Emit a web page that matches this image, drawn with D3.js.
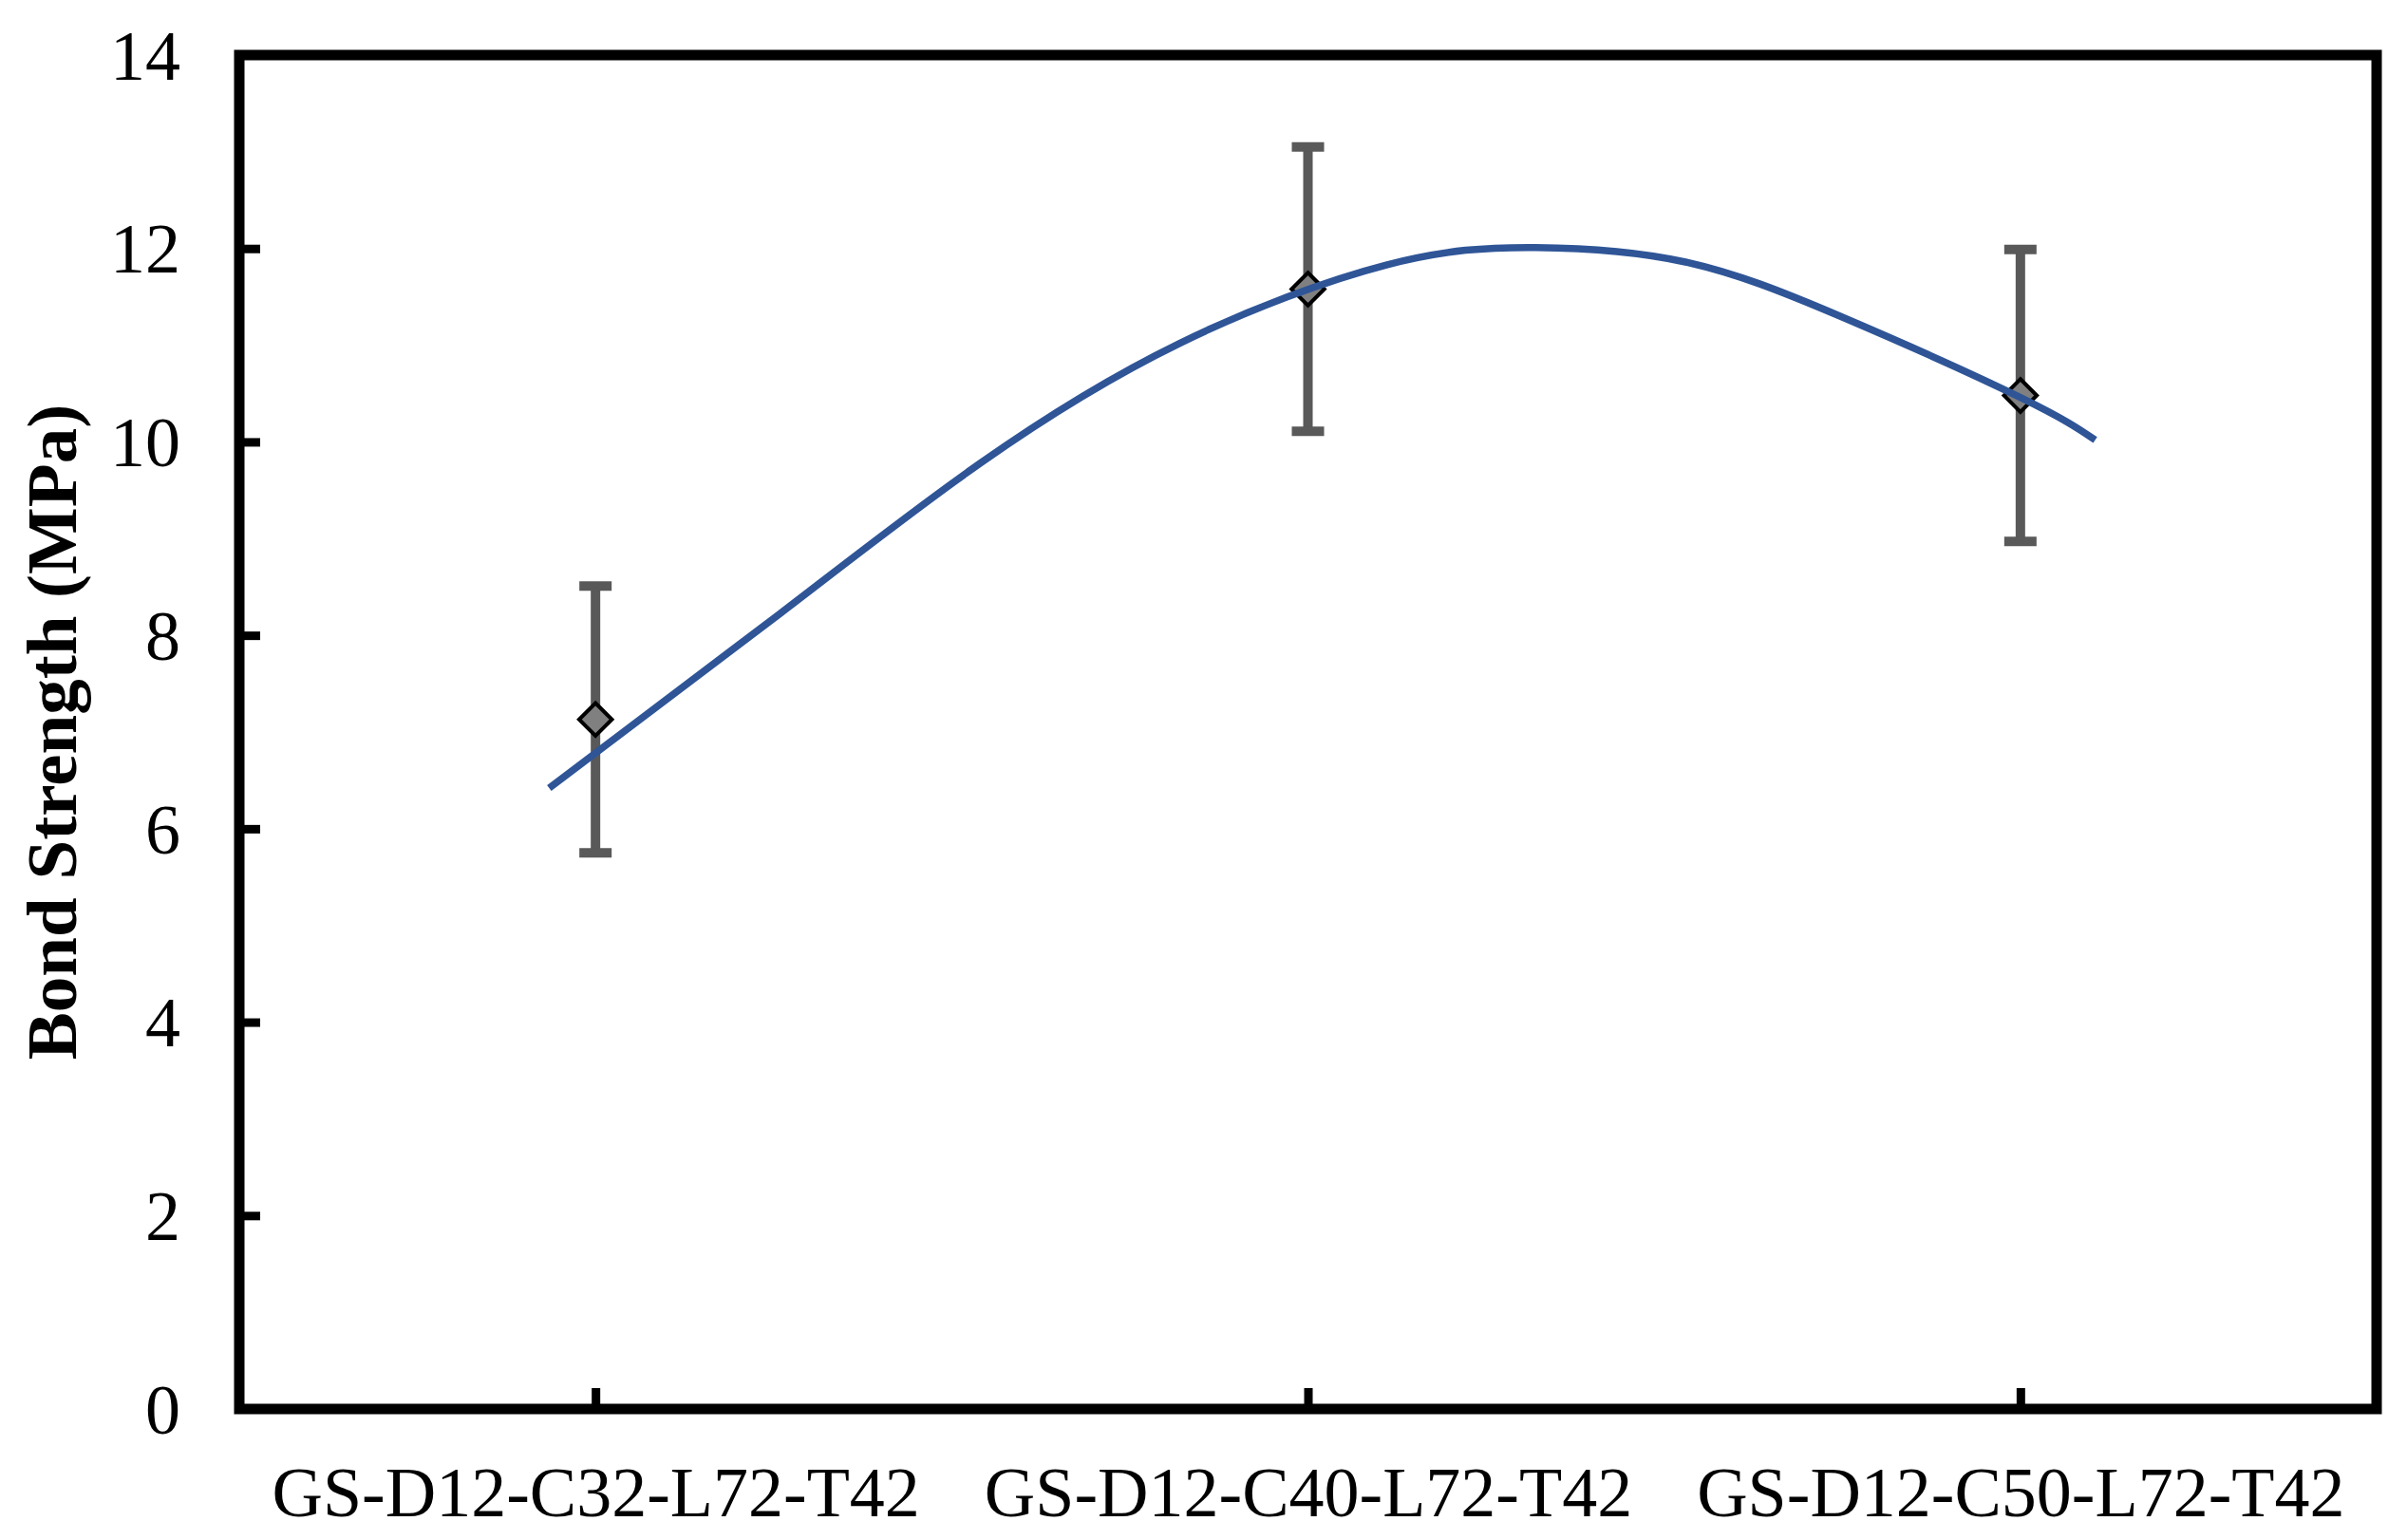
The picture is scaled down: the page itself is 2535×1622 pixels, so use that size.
<!DOCTYPE html>
<html>
<head>
<meta charset="utf-8">
<script src="https://cdn.jsdelivr.net/npm/d3@7"></script>
<style>
  body { margin: 0; background: #fff; }
  svg { display: block; }
</style>
</head>
<body>
<div class="chart"></div>
<script>
var categories = ["GS-D12-C32-L72-T42", "GS-D12-C40-L72-T42", "GS-D12-C50-L72-T42"];
var strength = [7.13, 11.58, 10.48];
var errHalf = [1.38, 1.47, 1.51];
var yTicks = [0, 2, 4, 6, 8, 10, 12, 14];

// trend curve (x in category index)
var fitX = [-0.065, 0.26, 0.54, 0.82, 1.11, 1.32, 1.53, 1.75, 2.0, 2.105];
var fitY = [6.42, 8.23, 9.78, 11.02, 11.83, 12.01, 11.86, 11.29, 10.46, 10.02];

var width = 2535;
var height = 1622;
var plotL = 252, plotR = 2503, plotT = 58, plotB = 1484;
var font = "'Liberation Serif', 'Times New Roman', serif";

var xScale = d3.scaleLinear().domain([-0.5, 2.5]).range([plotL, plotR]);
var yScale = d3.scaleLinear().domain([0, 14]).range([plotB, plotT]);

var svg = d3
  .select(".chart")
  .append("svg")
  .attr("width", width)
  .attr("height", height)
  .style("background", "#fff");

// y axis
var yAxis = svg
  .append("g")
  .attr("transform", "translate(" + plotL + ",0)")
  .call(d3.axisLeft(yScale).tickValues(yTicks).tickSize(-22).tickPadding(62).tickFormat(d3.format("d")));
yAxis.select(".domain").remove();
yAxis.selectAll(".tick line").attr("stroke", "#000").attr("stroke-width", 9);
yAxis
  .selectAll(".tick text")
  .attr("fill", "#000")
  .attr("dy", "0.34em")
  .style("font-family", font)
  .style("font-size", "74px");

// x axis
var xAxis = svg
  .append("g")
  .attr("transform", "translate(0," + plotB + ")")
  .call(
    d3.axisBottom(xScale)
      .tickValues([0, 1, 2])
      .tickSize(-22)
      .tickFormat(function(i) {
        return categories[i];
      })
  );
xAxis.select(".domain").remove();
xAxis.selectAll(".tick line").attr("stroke", "#000").attr("stroke-width", 9);
xAxis
  .selectAll(".tick text")
  .attr("fill", "#000")
  .attr("y", 113)
  .attr("dy", 0)
  .style("font-family", font)
  .style("font-size", "74px");

// frame
svg
  .append("rect")
  .attr("x", plotL)
  .attr("y", plotT)
  .attr("width", plotR - plotL)
  .attr("height", plotB - plotT)
  .attr("fill", "none")
  .attr("stroke", "#000")
  .attr("stroke-width", 11);

// y title
svg
  .append("text")
  .attr("transform", "translate(80," + (plotT + plotB) / 2 + ") rotate(-90)")
  .attr("text-anchor", "middle")
  .style("font-family", font)
  .style("font-weight", "bold")
  .style("font-size", "75px")
  .text("Bond Strength (MPa)");

// error bars
var err = svg.append("g").attr("stroke", "#595959").attr("stroke-width", 10);
err
  .selectAll("line.bar")
  .data(strength)
  .enter()
  .append("line")
  .attr("class", "bar")
  .attr("x1", function(d, i) { return xScale(i); })
  .attr("x2", function(d, i) { return xScale(i); })
  .attr("y1", function(d, i) { return yScale(d + errHalf[i]); })
  .attr("y2", function(d, i) { return yScale(d - errHalf[i]); });
[1, -1].forEach(function(sign) {
  err
    .selectAll("line.cap" + (sign > 0 ? "t" : "b"))
    .data(strength)
    .enter()
    .append("line")
    .attr("x1", function(d, i) { return xScale(i) - 17; })
    .attr("x2", function(d, i) { return xScale(i) + 17; })
    .attr("y1", function(d, i) { return yScale(d + sign * errHalf[i]); })
    .attr("y2", function(d, i) { return yScale(d + sign * errHalf[i]); });
});

// markers
svg
  .selectAll("path.marker")
  .data(strength)
  .enter()
  .append("path")
  .attr("class", "marker")
  .attr("d", d3.symbol().type(d3.symbolDiamond2).size(760))
  .attr("transform", function(d, i) {
    return "translate(" + xScale(i) + "," + yScale(d) + ")";
  })
  .attr("fill", "#808080")
  .attr("stroke", "#000")
  .attr("stroke-width", 4);

// trend curve
var line = d3
  .line()
  .x(function(d) { return xScale(d); })
  .y(function(d, i) { return yScale(fitY[i]); })
  .curve(d3.curveNatural);

svg
  .append("path")
  .attr("d", line(fitX))
  .attr("fill", "none")
  .attr("stroke", "#2F5597")
  .attr("stroke-width", 7.5);
</script>
</body>
</html>
